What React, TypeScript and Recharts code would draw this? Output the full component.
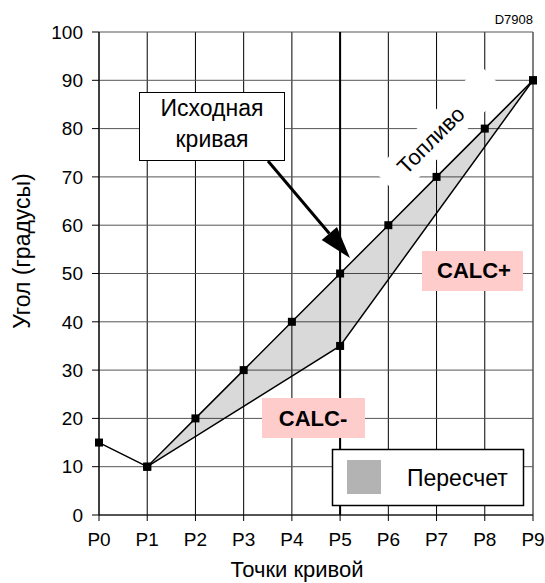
import {
  ComposedChart,
  Line,
  Area,
  XAxis,
  YAxis,
  CartesianGrid,
  ReferenceLine,
} from 'recharts';

const points = ['P0', 'P1', 'P2', 'P3', 'P4', 'P5', 'P6', 'P7', 'P8', 'P9'];
const original = [15, 10, 20, 30, 40, 50, 60, 70, 80, 90];
// recalculated curve: knots only where markers are drawn
const recalcKnots = [null, 10, null, null, null, 35, null, null, null, 90];
// lower edge of the shaded band
const recalcEdge = [null, 10, 16.5, 22.5, 29, 35, 49, 62.5, 76, 90];
const yTicks = [0, 10, 20, 30, 40, 50, 60, 70, 80, 90, 100];

const data = points.map((p, i) => ({
  name: p,
  original: original[i],
  recalc: recalcKnots[i],
  band: recalcEdge[i] == null ? null : [recalcEdge[i], original[i]],
}));

const FONT = '"Liberation Sans", Arial, sans-serif';

const Square = (props: any) => {
  const { cx, cy, value } = props;
  if (value == null || cx == null || cy == null) return <g key={props.key} />;
  return <rect key={props.key} x={cx - 4} y={cy - 4} width={8} height={8} fill="#000" />;
};

// arrow from the "Исходная кривая" box to the curve
const tip = { x: 350, y: 258 };
const tail = { x: 268, y: 161 };
const dx = tip.x - tail.x;
const dy = tip.y - tail.y;
const len = Math.hypot(dx, dy);
const ux = dx / len;
const uy = dy / len;
const baseX = tip.x - 32 * ux;
const baseY = tip.y - 32 * uy;
const head = `${tip.x},${tip.y} ${baseX - 10 * uy},${baseY + 10 * ux} ${baseX + 10 * uy},${baseY - 10 * ux}`;

export default function App() {
  return (
    <div style={{ position: 'absolute', left: 0, top: 0, width: 545, height: 583, background: '#fff', fontFamily: FONT }}>
      <ComposedChart width={545} height={583} data={data} margin={{ top: 32, right: 12, bottom: 0, left: 0 }}>
        <CartesianGrid horizontal={false} stroke="#000" strokeWidth={1} />
        <CartesianGrid vertical={false} stroke="#555" strokeWidth={1} />
        <XAxis
          dataKey="name"
          height={68}
          tickSize={6}
          tickMargin={12}
          stroke="#000"
          tick={{ fontSize: 19, fill: '#000', fontFamily: FONT }}
          interval={0}
        />
        <YAxis
          width={99}
          domain={[0, 100]}
          ticks={yTicks}
          tickSize={7}
          tickMargin={9}
          stroke="#000"
          tick={{ fontSize: 19, fill: '#000', fontFamily: FONT }}
          interval={0}
        />
        <Area
          type="linear"
          dataKey="band"
          stroke="none"
          fill="#000"
          fillOpacity={0.15}
          isAnimationActive={false}
        />
        <ReferenceLine x="P5" stroke="#000" strokeWidth={2} />
        <Line
          type="linear"
          dataKey="recalc"
          stroke="#000"
          strokeWidth={1.5}
          connectNulls
          dot={<Square />}
          isAnimationActive={false}
        />
        <Line
          type="linear"
          dataKey="original"
          stroke="#000"
          strokeWidth={1.5}
          dot={<Square />}
          isAnimationActive={false}
        />
      </ComposedChart>

      <svg width={545} height={583} style={{ position: 'absolute', left: 0, top: 0, pointerEvents: 'none' }}>
        <text x={533} y={24} fontSize={13} textAnchor="end" fill="#000" fontFamily={FONT}>D7908</text>
        <text
          x={22}
          y={251}
          fontSize={23}
          textAnchor="middle"
          dominantBaseline="central"
          transform="rotate(-90 22 251)"
          fill="#000"
          fontFamily={FONT}
        >
          Угол (градусы)
        </text>
        <text x={297} y={577} fontSize={22} textAnchor="middle" fill="#000" fontFamily={FONT}>Точки кривой</text>

        <g transform="rotate(-45 440 131)">
          <rect x={365} y={113} width={150} height={36} fill="#fff" />
          <text x={427} y={131} fontSize={22} textAnchor="middle" dominantBaseline="central" fill="#000" fontFamily={FONT}>
            Топливо
          </text>
        </g>

        <line x1={tail.x} y1={tail.y} x2={baseX} y2={baseY} stroke="#000" strokeWidth={3} />
        <polygon points={head} fill="#000" />

        <rect x={139.5} y={92.5} width={145} height={68} fill="#fff" stroke="#000" strokeWidth={1} />
        <text x={212} y={116} fontSize={23} textAnchor="middle" fill="#000" fontFamily={FONT}>Исходная</text>
        <text x={212} y={147} fontSize={23} textAnchor="middle" fill="#000" fontFamily={FONT}>кривая</text>

        <rect x={422} y={251} width={101} height={40} fill="#ffcccc" />
        <text x={474} y={278} fontSize={22} fontWeight="bold" textAnchor="middle" fill="#000" fontFamily={FONT}>CALC+</text>
        <rect x={262} y={398} width={103} height={40} fill="#ffcccc" />
        <text x={313} y={426} fontSize={22} fontWeight="bold" textAnchor="middle" fill="#000" fontFamily={FONT}>CALC-</text>

        <rect x={332.5} y={449.5} width={191} height={56} fill="#fff" stroke="#000" strokeWidth={1.5} />
        <rect x={347} y={460} width={34} height={34} fill="#b3b3b3" />
        <text x={407} y={486} fontSize={23} fill="#000" fontFamily={FONT}>Пересчет</text>
      </svg>
    </div>
  );
}
